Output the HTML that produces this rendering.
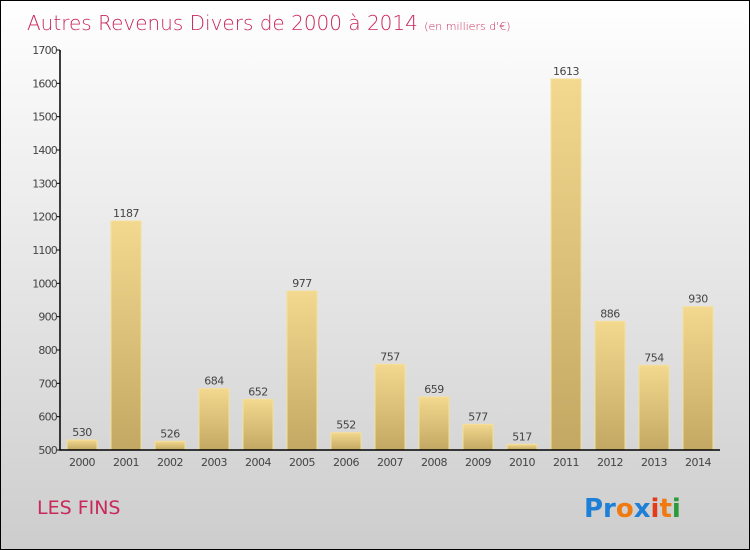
<!DOCTYPE html>
<html><head><meta charset="utf-8"><style>
body{margin:0}
#c{position:relative;width:748px;height:548px;border:1px solid #000;background:linear-gradient(#ffffff,#cdcdcd);overflow:hidden;font-family:"DejaVu Sans","Liberation Sans",sans-serif}
</style></head><body>
<div id="c">
<svg width="748" height="548">
<defs><linearGradient id="bg" x1="0" y1="0" x2="0" y2="1"><stop offset="0" stop-color="#f3d98f"/><stop offset="1" stop-color="#c2a862"/></linearGradient></defs>
<text x="26" y="29" font-size="20" fill="#c8285a" font-family="DejaVu Sans,sans-serif" font-weight="200">Autres Revenus Divers de 2000 à 2014 <tspan font-size="11">(en milliers d'€)</tspan></text>
<g id="g"></g>
<text x="36" y="513" font-size="19" fill="#c8285a">LES FINS</text>
<g font-size="26" font-weight="bold" font-family="DejaVu Sans,sans-serif">
<text x="583" y="516"><tspan fill="#1e7fd6">Pr</tspan><tspan fill="#f07a10">o</tspan><tspan fill="#1e7fd6">x</tspan><tspan fill="#e23a1a">i</tspan><tspan fill="#f07a10">t</tspan><tspan fill="#2a9a3a">i</tspan></text></g>
</svg></div>
<script>
const years=["2000","2001","2002","2003","2004","2005","2006","2007","2008","2009","2010","2011","2012","2013","2014"];
const values=[530,1187,526,684,652,977,552,757,659,577,517,1613,886,754,930];
const ticks=[500,600,700,800,900,1000,1100,1200,1300,1400,1500,1600,1700];
const g=document.getElementById('g');const ns="http://www.w3.org/2000/svg";
const x0=59,x1=719,yv=v=>449-(v-500)/3,slot=(x1-x0)/years.length;
function mk(t,a){const e=document.createElementNS(ns,t);for(const k in a)e.setAttribute(k,a[k]);g.appendChild(e);return e;}
ticks.forEach(t=>{const y=yv(t);
const l=mk('line',{x1:x0-3,x2:x0,y1:y,y2:y,stroke:'#000'});


const tx=mk('text',{x:x0-3,y:y+4,'text-anchor':'end','font-size':11,fill:'#444','letter-spacing':'-0.8'});tx.textContent=t;

});
years.forEach((yr,i)=>{const cx=x0+slot*(i+0.5),v=values[i],y=yv(v);
const r=mk('rect',{x:cx-15,y:y,width:30,height:449-y,fill:'url(#bg)',stroke:'#f5e09a','stroke-width':1});


const vt=mk('text',{x:cx,y:y-4,'text-anchor':'middle','font-size':11,fill:'#444','letter-spacing':'-0.5'});vt.textContent=v;


const xt=mk('text',{x:cx,y:465,'text-anchor':'middle','font-size':11,fill:'#444','letter-spacing':'-0.5'});xt.textContent=yr;

});
const ax=mk('path',{d:`M${x0} ${yv(1700)}V449H${x1}`,stroke:'#000',fill:'none','stroke-width':1.5});


</script></body></html>
